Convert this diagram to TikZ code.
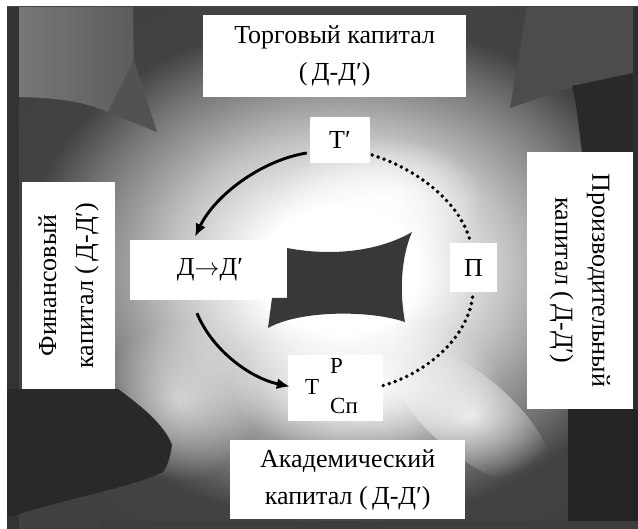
\documentclass[tikz,border=0pt]{standalone}
\usepackage{fontspec}
\setmainfont{Liberation Serif}
\usetikzlibrary{arrows.meta,fadings}
\pgfdeclareradialshading{bgshade}{\pgfpoint{0bp}{0bp}}{%
 color(0bp)=(white); color(6bp)=(white); color(13bp)=(black!25); color(16bp)=(black!38); color(20bp)=(black!55); color(24bp)=(black!74); color(71bp)=(black!78)}
\tikzfading[name=softfade, inner color=transparent!0, outer color=transparent!100]
\tikzset{
 box/.style={fill=white, inner sep=0pt, align=center, font=\fontsize{26}{37}\selectfont},
 flow/.style={line width=2.9pt, -{Latex[length=13pt,width=11pt]}},
 dotline/.style={line width=3.9pt, line cap=round, dash pattern=on 0pt off 6.3pt},
 lobe/.style={fill=white, path fading=softfade}
}
\begin{document}
\begin{tikzpicture}[x=1pt,y=-1pt]
\useasboundingbox (0,0) rectangle (638,529);
\fill[white] (0,0) rectangle (638,529);
\begin{scope}
\clip (7,7) rectangle (638,529);
\shade[shading=bgshade] (7,7) rectangle (673,533);
% corner patches
\shade[left color=black!52, right color=black!66] (7,7) -- (133,7) -- (134,80) -- (157,132) -- (108,112) .. controls (80,100) and (50,97) .. (7,97) -- cycle;
\fill[black!68] (134,60) -- (157,132) -- (108,112) -- cycle;
\fill[black!70] (527,7) -- (510,108) -- (563,90) -- (638,75) -- (638,7) -- cycle;
\fill[black!84] (572,86) -- (638,72) -- (638,152) -- (582,152) .. controls (578,120) and (576,100) .. (572,86) -- cycle;
\fill[black!80] (7,7) rectangle (19,529);
\fill[black!82] (633,7) rectangle (638,529);
\fill[black!86] (568,409) rectangle (638,529);
\fill[black!76] (100,521) rectangle (638,529);
% light lobes
\fill[lobe] (385,200) ellipse (100 and 62);
\fill[lobe] (365,385) ellipse (135 and 75);
\fill[lobe, opacity=0.6] (180,400) ellipse (80 and 80);
\fill[lobe, opacity=0.8, rotate around={-40:(470,415)}] (470,415) ellipse (100 and 40);
\fill[black!84] (7,389) -- (118,389) .. controls (140,405) and (165,425) .. (172,445) .. controls (170,460) and (166,468) .. (163,472) .. controls (130,488) and (60,500) .. (13,516) -- (7,516) -- cycle;
% central dark shape
\fill[black!78] (287,248) .. controls (340,258) and (385,248) .. (412,232)
  .. controls (400,260) and (400,295) .. (405,322)
  .. controls (370,310) and (300,310) .. (268,328)
  -- (272,298) -- (287,298) -- cycle;
\end{scope}
% capital boxes
\node[box, anchor=north west, minimum width=263, minimum height=82] (top) at (203,15) {Торговый капитал\\(\,Д-Д′)};
\node[box, rotate=90, minimum width=207, minimum height=93] (left) at (68.5,285.5) {Финансовый\\капитал (\,Д-Д′)};
\node[box, rotate=-90, minimum width=257, minimum height=106] (right) at (580,280.5) {Производительный\\капитал (\,Д-Д′)};
\node[box, anchor=north west, minimum width=235, minimum height=79] (bottom) at (230,440) {Академический\\капитал (\,Д-Д′)};
% cycle boxes
\node[box, minimum width=60, minimum height=46] (tp) at (340,140) {Т′};
\node[box, minimum width=138, minimum height=60] (dd) at (199,270) {\hspace*{22pt}Д$\to$Д′};
\node[box, minimum width=47, minimum height=49] (pp) at (473.5,267.5) {П};
\node[box, minimum width=95, minimum height=57, font=\fontsize{23}{26}\selectfont] (ts) at (335.5,388.5) {Т\hspace{11pt}\begin{tabular}{@{}l@{}}Р\\[14pt]Сп\end{tabular}\hspace*{8pt}};
% connectors
\draw[flow] ([xshift=-3pt,yshift=-13pt]tp.west) .. controls (262,160) and (215,195) .. ([xshift=-4pt,yshift=3pt]dd.north);
\draw[flow] ([xshift=-2pt,yshift=-13pt]dd.south) .. controls (212,350) and (250,378) .. ([xshift=2pt,yshift=2pt]ts.west);
\draw[dotline] ([xshift=2pt,yshift=-15pt]tp.east) .. controls (420,170) and (462,205) .. ([xshift=-3pt]pp.north);
\draw[dotline] ([xshift=-1pt,yshift=-5pt]pp.south) .. controls (468,335) and (430,372) .. ([yshift=3pt]ts.east);
\end{tikzpicture}
\end{document}
